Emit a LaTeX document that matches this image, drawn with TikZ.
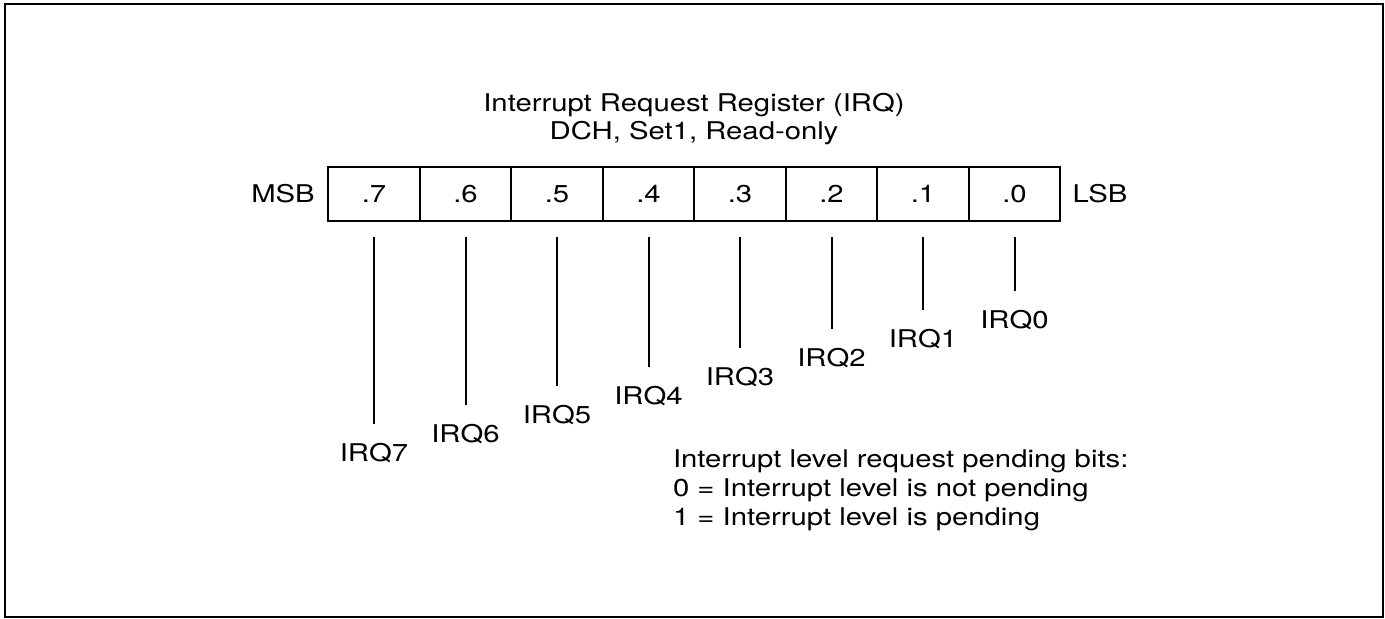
\documentclass[tikz,border=0pt]{standalone}
\usepackage{fontspec}
\setmainfont[FakeStretch=1.2]{TeX Gyre Heros}
\usepackage{tikz}

\begin{document}
\begin{tikzpicture}[x=0.5pt,y=-0.5pt,line width=1pt,
		bitcell/.style={draw,minimum width=45.75pt,minimum height=27pt,inner sep=0pt},
		txt/.style={inner sep=0pt,font=\fontsize{12.2}{14.4}\selectfont}]
			\useasboundingbox (0,0) rectangle (1385,619);
			\draw (5,4) rectangle (1383,617);
			\node[txt,align=center] (title) at (694,119) {Interrupt Request Register (IRQ)\\DCH, Set1, Read-only};
			\foreach \b [count=\i from 0] in {7,6,5,4,3,2,1,0} {
				\node[bitcell,txt] (bit\b) at (374+91.5*\i,194) {.\b};
				\coordinate (top\b) at (374+91.5*\i,237);
				\coordinate (end\b) at (374+91.5*\i,424-19*\i);
				\node[txt] (irq\b) at (374+91.5*\i,453-19*\i) {IRQ\b};
				\draw (top\b) -- (end\b);
			}
			\node[txt] (msb) at (283,194) {MSB};
			\node[txt] (lsb) at (1100,194) {LSB};
			\node[txt,align=left,anchor=west] (legend) at (672,490.5) {Interrupt level request pending bits:\\0 = Interrupt level is not pending\\1 = Interrupt level is pending};
		\end{tikzpicture}
\end{document}
